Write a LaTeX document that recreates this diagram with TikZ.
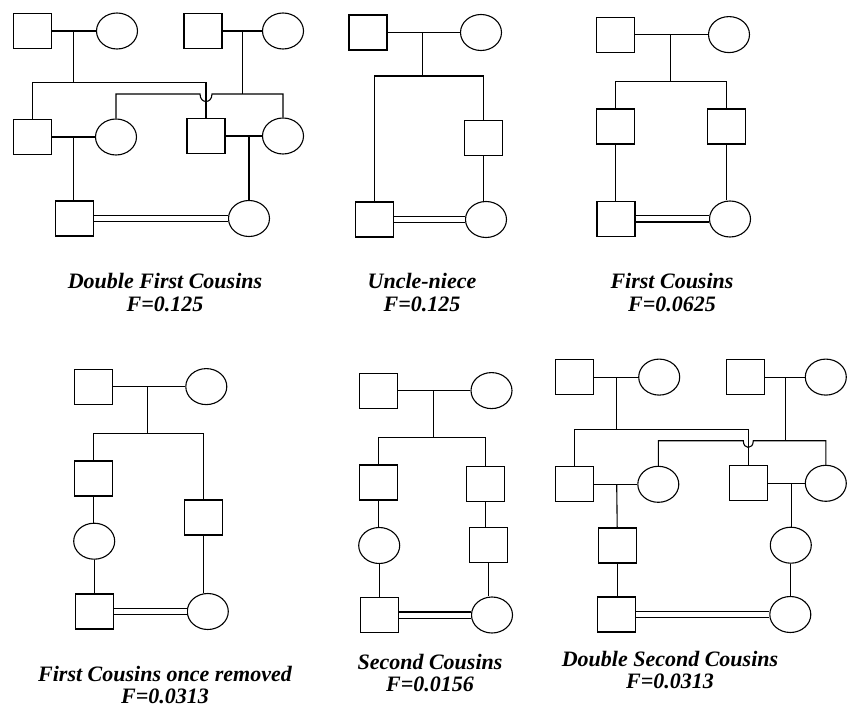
\documentclass[tikz,border=0pt]{standalone}
\usepackage{fontspec}
\setmainfont{Liberation Serif}
\usetikzlibrary{shapes.geometric,calc}
\tikzset{
  mal/.style={draw,rectangle,minimum width=38pt,minimum height=35pt,inner sep=0pt,line width=1.1pt},
  fem/.style={draw,ellipse,minimum width=41pt,minimum height=36pt,inner sep=0pt,line width=1.1pt},
  ln/.style={line width=1.1pt},
  dbl/.style={line width=1.1pt,double,double distance=5pt},
  capt/.style={align=center,anchor=base,inner sep=0pt,font=\fontsize{22}{24}\selectfont\bfseries\itshape},
  capb/.style={align=center,anchor=base,inner sep=0pt,font=\fontsize{22}{22}\selectfont\bfseries\itshape}
}
\begin{document}
\begin{tikzpicture}[x=1pt,y=-1pt]
\useasboundingbox (0,0) rectangle (853,708);
\fill[white] (0,0) rectangle (853,708);
% ===== Panel 1: Double first cousins
\node[mal] (A1) at (32.5,31) {};
\node[fem] (B1) at (117,31) {};
\node[mal] (A2) at (203,31) {};
\node[fem] (B2) at (283,31) {};
\node[mal] (C1) at (32.5,137) {};
\node[fem] (C2) at (116,137) {};
\node[mal] (C3) at (206,136) {};
\node[fem] (C4) at (283,136) {};
\node[mal] (D1) at (74.7,218.5) {};
\node[fem] (D2) at (249,218.5) {};
\coordinate (j1) at (73.3,82.3);
\coordinate (j2) at (242.3,94);
\coordinate (k1) at (73.3,137);
\coordinate (k2) at (249,136);
\draw[ln] (A1.east) -- (B1.west);
\draw[ln] (A2.east) -- (B2.west);
\draw[ln] (j1 |- A1.east) -- (j1);
\draw[ln] (j2 |- A2.east) -- (j2);
\draw[ln] (C1.north) |- (j1) -| (C3.north);
\coordinate (h1a) at ($(C3.north |- j2)+(-6,0)$);
\coordinate (h1b) at ($(C3.north |- j2)+(6,0)$);
\draw[ln] (C2.north) |- (h1a) .. controls ($(h1a)+(0,10)$) and ($(h1b)+(0,10)$) .. (h1b) -| (C4.north);
\draw[ln] (C1.east) -- (C2.west);
\draw[ln] (C3.east) -- (C4.west);
\draw[ln] (k1 |- C1.east) -- (k1 |- D1.north);
\draw[ln] (k2 |- C3.east) -- (D2.north);
\draw[dbl] (D1.east) -- (D2.west);
\node[capt] (cap1) at (165,312) {Double First Cousins\\F=0.125};
% ===== Panel 2: Uncle-niece
\node[mal] (E1) at (368,32.5) {};
\node[fem] (E2) at (481,32.5) {};
\node[mal] (F1) at (483.5,138) {};
\node[mal] (G1) at (374.7,219.5) {};
\node[fem] (G2) at (486,219.5) {};
\coordinate (j3) at (422.7,76);
\draw[ln] (E1.east) -- (E2.west);
\draw[ln] (j3 |- E1.east) -- (j3);
\draw[ln] (G1.north) |- (j3) -| (F1.north);
\draw[ln] (F1.south) -- (F1.south |- G2.north);
\draw[dbl] (G1.east) -- (G2.west);
\node[capt] (cap2) at (422,312) {Uncle-niece\\F=0.125};
% ===== Panel 3: First cousins
\node[mal] (H1) at (615.5,34.6) {};
\node[fem] (H2) at (729,34.6) {};
\node[mal] (I1) at (615.5,126.5) {};
\node[mal] (I2) at (726.5,126.5) {};
\node[mal] (J1) at (616,219) {};
\node[fem] (J2) at (730,219) {};
\coordinate (j4) at (670.7,81.7);
\draw[ln] (H1.east) -- (H2.west);
\draw[ln] (j4 |- H1.east) -- (j4);
\draw[ln] (I1.north) |- (j4) -| (I2.north);
\draw[ln] (I1.south) -- (I1.south |- J1.north);
\draw[ln] (I2.south) -- (I2.south |- J2.north);
\draw[dbl] (J1.east) -- (J2.west);
\node[capt] (cap3) at (672,312) {First Cousins\\F=0.0625};
% ===== Panel 4: First cousins once removed
\node[mal] (K1) at (93.5,386.6) {};
\node[fem] (K2) at (206.3,386.6) {};
\node[mal] (L1) at (93.5,478.5) {};
\node[fem] (L2) at (94.2,541.2) {};
\node[mal] (M1) at (203.8,517.5) {};
\node[mal] (N1) at (94.2,611.5) {};
\node[fem] (N2) at (207.8,611.5) {};
\coordinate (j5) at (147.7,433.3);
\draw[ln] (K1.east) -- (K2.west);
\draw[ln] (j5 |- K1.east) -- (j5);
\draw[ln] (L1.north) |- (j5) -| (M1.north);
\draw[ln] (L1.south) -- (L1.south |- L2.north);
\draw[ln] (L2.south) -- (L2.south |- N1.north);
\draw[ln] (M1.south) -- (M1.south |- N2.north);
\draw[dbl] (N1.east) -- (N2.west);
\node[capb] (cap4) at (165,703) {First Cousins once removed\\F=0.0313};
% ===== Panel 5: Second cousins
\node[mal] (P1) at (378.3,390.6) {};
\node[fem] (P2) at (491.5,390.6) {};
\node[mal] (Q1) at (378.3,482.5) {};
\node[fem] (Q2) at (379.2,545.5) {};
\node[mal] (S1) at (379.8,615) {};
\node[mal] (R1) at (485.5,483.8) {};
\node[mal] (R2) at (488.8,544.8) {};
\node[fem] (S2) at (492,615) {};
\coordinate (j6) at (433.3,437.7);
\draw[ln] (P1.east) -- (P2.west);
\draw[ln] (j6 |- P1.east) -- (j6);
\draw[ln] (Q1.north) |- (j6) -| (R1.north);
\draw[ln] (Q1.south) -- (Q1.south |- Q2.north);
\draw[ln] (Q2.south) -- (Q2.south |- S1.north);
\draw[ln] (R1.south) -- (R1.south |- R2.north);
\draw[ln] (R2.south) -- (R2.south |- S2.north);
\draw[dbl] (S1.east) -- (S2.west);
\node[capb] (cap5) at (430,691) {Second Cousins\\F=0.0156};
% ===== Panel 6: Double second cousins
\node[mal] (T1) at (574.5,377.1) {};
\node[fem] (T2) at (659.2,377.1) {};
\node[mal] (T3) at (745.5,377.1) {};
\node[fem] (T4) at (825.8,377.1) {};
\node[mal] (U1) at (574.5,484.3) {};
\node[fem] (U2) at (658.3,484.3) {};
\node[mal] (U3) at (748.3,483.3) {};
\node[fem] (U4) at (825.8,483.3) {};
\node[mal] (V1) at (617.2,545.5) {};
\node[fem] (V2) at (790.8,545.2) {};
\node[mal] (W1) at (616.2,614.5) {};
\node[fem] (W2) at (790.3,614.5) {};
\coordinate (j7) at (616.7,429.3);
\coordinate (j8) at (785.7,440.7);
\coordinate (k3) at (616.7,484.3);
\coordinate (k4) at (791.2,483.3);
\draw[ln] (T1.east) -- (T2.west);
\draw[ln] (T3.east) -- (T4.west);
\draw[ln] (j7 |- T1.east) -- (j7);
\draw[ln] (j8 |- T3.east) -- (j8);
\draw[ln] (U1.north) |- (j7) -| (U3.north);
\coordinate (h2a) at ($(U3.north |- j8)+(-5,0)$);
\coordinate (h2b) at ($(U3.north |- j8)+(5,0)$);
\draw[ln] (U2.north) |- (h2a) .. controls ($(h2a)+(0,9)$) and ($(h2b)+(0,9)$) .. (h2b) -| (U4.north);
\draw[ln] (U1.east) -- (U2.west);
\draw[ln] (U3.east) -- (U4.west);
\draw[ln] (k3 |- U1.east) -- (V1.north);
\draw[ln] (k4 |- U3.east) -- (k4 |- V2.north);
\draw[ln] (V1.south) -- (V1.south |- W1.north);
\draw[ln] (V2.south) -- (V2.south |- W2.north);
\draw[dbl] (W1.east) -- (W2.west);
\node[capb] (cap6) at (670,688) {Double Second Cousins\\F=0.0313};
\end{tikzpicture}
\end{document}
